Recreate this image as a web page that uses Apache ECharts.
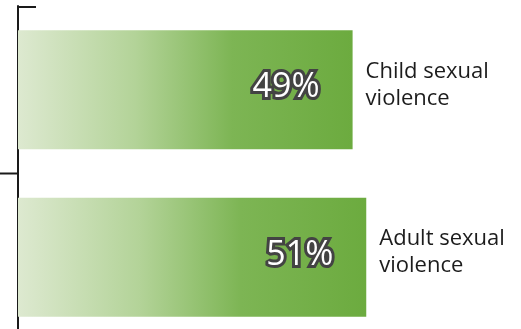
<!DOCTYPE html>
<html>
<head>
<meta charset="utf-8">
<script src="https://cdn.jsdelivr.net/npm/echarts@6/dist/echarts.min.js"></script>
<style>
  html, body { margin: 0; padding: 0; background: #ffffff; }
  #chart { width: 521px; height: 329px; }
</style>
</head>
<body>
<div id="chart"></div>
<script>
// Share of cases by type of sexual violence
const categories = ['Child sexual\nviolence', 'Adult sexual\nviolence'];
const shares = [49, 51];
const valueSuffix = '%';

const chart = echarts.init(document.getElementById('chart'));

const barGradient = new echarts.graphic.LinearGradient(0, 0, 1, 0, [
  { offset: 0, color: '#dde9d0' },
  { offset: 0.35, color: '#b3d398' },
  { offset: 0.64, color: '#7db554' },
  { offset: 1, color: '#6cab3f' }
]);

const option = {
  animation: false,
  grid: {
    left: 18, right: 25, top: 6, bottom: -12,
    containLabel: false,
    outerBoundsMode: 'none'
  },
  xAxis: {
    type: 'value',
    min: 0,
    max: 70,
    show: false
  },
  yAxis: {
    type: 'category',
    inverse: true,
    data: categories,
    axisLine: { show: true, lineStyle: { color: '#1a1a1a', width: 2 } },
    axisTick: { show: false },
    axisLabel: { show: false },
    splitLine: { show: false }
  },
  series: [
    {
      type: 'bar',
      data: shares,
      barWidth: 119,
      itemStyle: { color: barGradient },
      label: {
        show: true,
        position: 'insideRight',
        distance: 33,
        offset: [0, -2],
        formatter: p => p.value + valueSuffix,
        color: '#ffffff',
        fontFamily: 'Open Sans',
        fontSize: 34,
        textBorderColor: '#434343',
        textBorderWidth: 6
      },
      z: 2
    },
    {
      // transparent twin carrying the category names past each bar end
      type: 'bar',
      data: shares,
      barWidth: 119,
      barGap: '-100%',
      itemStyle: { color: 'rgba(0,0,0,0)' },
      label: {
        show: true,
        position: 'right',
        distance: 13,
        offset: [0, -5],
        formatter: p => categories[p.dataIndex],
        color: '#1c1c1c',
        fontFamily: 'Open Sans',
        fontSize: 22,
        lineHeight: 27,
        align: 'left'
      },
      silent: true,
      z: 3
    }
  ]
};

chart.setOption(option);

// Axis bracket: short stroke at the top pointing right, divider tick between categories pointing left
const axisX = chart.convertToPixel({ gridIndex: 0 }, [0, 0])[0];
const yFirst = chart.convertToPixel({ yAxisIndex: 0 }, 0);
const ySecond = chart.convertToPixel({ yAxisIndex: 0 }, 1);
const band = ySecond - yFirst;
const topY = yFirst - band / 2;
const midY = (yFirst + ySecond) / 2;

chart.setOption({
  graphic: [
    {
      type: 'line',
      shape: { x1: axisX - 1, y1: topY + 1, x2: axisX + 18, y2: topY + 1 },
      style: { stroke: '#1a1a1a', lineWidth: 2 }
    },
    {
      type: 'line',
      shape: { x1: 0, y1: midY, x2: axisX, y2: midY },
      style: { stroke: '#1a1a1a', lineWidth: 2 }
    }
  ]
});
</script>
</body>
</html>
